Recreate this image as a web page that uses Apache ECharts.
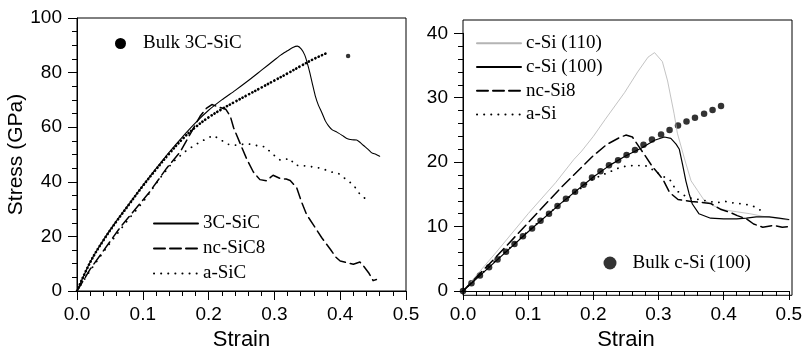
<!DOCTYPE html>
<html>
<head>
<meta charset="utf-8">
<script src="https://cdn.jsdelivr.net/npm/echarts@6/dist/echarts.min.js"></script>
<style>
html,body{margin:0;padding:0;background:#fff;}
#c{width:805px;height:356px;}
</style>
</head>
<body>
<div id="c"></div>
<script>
// ---------- Left panel (SiC) : [strain, stress GPa] ----------
const bulk3C = [[0,0],[0.02,10.5],[0.04,18.5],[0.06,25.5],[0.08,32.0],[0.10,38.5],[0.12,44.5],[0.14,50.3],[0.16,55.6],[0.18,60.0],[0.20,63.6],[0.22,66.6],[0.24,69.3],[0.26,71.9],[0.28,74.5],[0.30,77.1],[0.32,79.7],[0.34,82.4],[0.36,85.0],[0.38,87.2]];
const bulk3CTail = [[0.412,86.1]];
const sic3C = [[0,0],[0.02,10.6],[0.04,18.7],[0.06,25.7],[0.08,32.2],[0.10,38.6],[0.12,44.8],[0.14,50.8],[0.16,56.4],[0.18,61.6],[0.20,66.2],[0.22,70.0],[0.24,73.4],[0.26,77.0],[0.28,80.8],[0.30,84.6],[0.31,86.5],[0.32,88.0],[0.328,89.2],[0.335,89.7],[0.341,88.6],[0.346,86.5],[0.35,83.5],[0.354,79.8],[0.358,75.6],[0.362,71.6],[0.367,68.0],[0.372,65.4],[0.377,62.5],[0.382,60.6],[0.388,59.0],[0.395,58.2],[0.403,57.0],[0.41,55.9],[0.418,55.4],[0.425,55.3],[0.43,54.5],[0.435,53.4],[0.442,52.0],[0.448,50.6],[0.454,50.1],[0.46,49.4]];
const ncSiC8 = [[0,0],[0.02,8.0],[0.04,14.7],[0.065,23.1],[0.086,29.2],[0.111,36.5],[0.136,44.9],[0.157,51.0],[0.172,57.5],[0.187,64.0],[0.197,67.0],[0.205,68.3],[0.215,67.4],[0.226,66.6],[0.233,64.0],[0.238,59.8],[0.248,54.0],[0.258,48.3],[0.268,43.6],[0.278,40.8],[0.288,40.4],[0.298,42.4],[0.309,41.2],[0.318,41.0],[0.324,40.5],[0.334,37.7],[0.341,32.8],[0.349,28.0],[0.359,24.3],[0.372,19.5],[0.385,15.3],[0.393,12.5],[0.4,11.0],[0.41,10.4],[0.42,9.8],[0.43,10.6],[0.436,9.0],[0.444,6.4],[0.45,3.8],[0.455,4.2]];
const aSiC = [[0,0],[0.02,7.5],[0.045,15.9],[0.076,25.6],[0.101,32.8],[0.126,41.3],[0.146,47.3],[0.167,51.6],[0.187,54.6],[0.207,57.0],[0.218,55.5],[0.228,53.8],[0.243,53.4],[0.258,54.0],[0.27,53.4],[0.286,52.8],[0.296,50.4],[0.309,47.9],[0.324,48.5],[0.331,46.1],[0.344,45.9],[0.357,45.5],[0.372,44.9],[0.385,43.7],[0.397,43.1],[0.41,40.7],[0.42,38.9],[0.429,35.8],[0.44,33.4]];

// ---------- Right panel (Si) ----------
const bulkSi = [[0,0],[0.013,1.2],[0.026,2.4],[0.040,3.7],[0.053,4.9],[0.066,6.1],[0.079,7.3],[0.092,8.5],[0.106,9.7],[0.119,10.9],[0.132,12.0],[0.145,13.2],[0.158,14.3],[0.172,15.4],[0.185,16.5],[0.198,17.6],[0.211,18.6],[0.224,19.5],[0.238,20.3],[0.251,21.1],[0.264,21.9],[0.277,22.7],[0.290,23.5],[0.304,24.3],[0.317,25.0],[0.330,25.7],[0.343,26.3],[0.356,26.9],[0.370,27.5],[0.383,28.1],[0.396,28.7]];
const cSi110 = [[0,0],[0.05,5.9],[0.1,12.0],[0.142,16.8],[0.17,20.4],[0.182,21.7],[0.2,24.0],[0.218,26.6],[0.248,30.8],[0.268,34.0],[0.284,36.3],[0.294,37.0],[0.306,35.6],[0.314,32.6],[0.324,27.5],[0.329,24.5],[0.34,20.5],[0.35,17.1],[0.36,15.6],[0.37,14.1],[0.385,13.2],[0.4,12.6],[0.42,12.3],[0.44,12.0],[0.46,11.6],[0.48,11.3],[0.5,11.0]];
const cSi100 = [[0,0],[0.05,4.6],[0.1,9.2],[0.15,13.6],[0.2,17.7],[0.225,19.5],[0.25,21.0],[0.274,22.2],[0.294,23.4],[0.309,23.9],[0.319,23.7],[0.327,22.8],[0.332,22.0],[0.337,19.6],[0.342,17.1],[0.347,15.1],[0.352,13.5],[0.362,12.0],[0.38,11.3],[0.4,11.2],[0.42,11.2],[0.435,11.3],[0.45,11.5],[0.47,11.5],[0.485,11.3],[0.5,11.1]];
const ncSi8 = [[0,0],[0.05,5.2],[0.1,10.6],[0.15,16.0],[0.2,21.0],[0.22,22.7],[0.24,23.8],[0.25,24.2],[0.26,23.9],[0.27,22.4],[0.279,21.1],[0.29,19.4],[0.3,18.2],[0.307,17.3],[0.317,15.3],[0.33,14.2],[0.35,13.9],[0.37,13.7],[0.38,13.6],[0.395,12.7],[0.41,12.2],[0.421,11.7],[0.435,11.2],[0.446,10.4],[0.46,9.9],[0.477,10.2],[0.49,9.9],[0.5,10.0]];
const aSi = [[0,0],[0.05,4.7],[0.1,9.3],[0.15,13.6],[0.2,17.4],[0.223,18.4],[0.239,19.1],[0.251,19.4],[0.266,19.5],[0.281,19.4],[0.29,18.9],[0.302,18.1],[0.319,17.1],[0.327,15.6],[0.345,14.5],[0.373,14.0],[0.39,13.7],[0.403,13.9],[0.418,13.6],[0.431,13.5],[0.445,13.2],[0.459,12.4]];

// ---------- axes / labels ----------
const strainTicks = [0, 0.1, 0.2, 0.3, 0.4, 0.5];
const leftStressTicks = [0, 20, 40, 60, 80, 100];
const rightStressTicks = [0, 10, 20, 30, 40];
const xTitle = 'Strain';
const yTitle = 'Stress (GPa)';

const SANS = 'Liberation Sans';
const SERIF = 'Liberation Serif';
const BLACK = '#000';

function xAxisCfg(gi) {
  return {
    gridIndex: gi, type: 'value',
    min: strainTicks[0], max: strainTicks[strainTicks.length - 1], interval: strainTicks[1] - strainTicks[0],
    axisLine: { lineStyle: { color: BLACK, width: 1 } },
    axisTick: { length: 9, lineStyle: { color: BLACK, width: 1 } },
    minorTick: { show: true, splitNumber: 5, length: 5, lineStyle: { color: BLACK, width: 1 } },
    splitLine: { show: false },
    axisLabel: { color: BLACK, fontFamily: SANS, fontSize: 19, margin: 14, formatter: v => v.toFixed(1) },
    name: xTitle, nameLocation: 'middle', nameGap: 38,
    nameTextStyle: { color: BLACK, fontFamily: SANS, fontSize: 22 }
  };
}
function yAxisCfg(gi, ticks, minorSplit, title) {
  const c = {
    gridIndex: gi, type: 'value',
    min: ticks[0], max: ticks[ticks.length - 1], interval: ticks[1] - ticks[0],
    axisLine: { show: true, lineStyle: { color: BLACK, width: 1 } },
    axisTick: { show: true, length: 9, lineStyle: { color: BLACK, width: 1 } },
    minorTick: { show: true, splitNumber: minorSplit, length: 5, lineStyle: { color: BLACK, width: 1 } },
    splitLine: { show: false },
    axisLabel: { color: BLACK, fontFamily: SANS, fontSize: 19, margin: 15 }
  };
  if (title) {
    c.name = title; c.nameLocation = 'middle'; c.nameGap = 49;
    c.nameTextStyle = { color: BLACK, fontFamily: SANS, fontSize: 21 };
  }
  return c;
}
function lineSeries(name, data, xi, type, width, color) {
  return {
    name, type: 'line', xAxisIndex: xi, yAxisIndex: xi, data,
    symbol: 'none', smooth: false,
    itemStyle: { color: color || BLACK },
    lineStyle: { color: color || BLACK, width: width, type: type, cap: 'round', join: 'round' },
    animation: false, silent: true
  };
}
const noSymbol = { color: 'rgba(0,0,0,0)', borderColor: 'rgba(0,0,0,0)', borderWidth: 0, opacity: 0 };

const chart = echarts.init(document.getElementById('c'), null, { renderer: 'canvas' });
chart.setOption({
  backgroundColor: '#fff',
  animation: false,
  grid: [
    { left: 77, top: 18, right: 399, bottom: 62.3, show: true, borderColor: BLACK, borderWidth: 1, backgroundColor: 'transparent' },
    { left: 463, top: 33.3, right: 13, bottom: 60.7 },
    { left: 463, top: 20, right: 13, bottom: 60.7, show: true, borderColor: BLACK, borderWidth: 1, backgroundColor: 'transparent' }
  ],
  xAxis: [xAxisCfg(0), xAxisCfg(1), { gridIndex: 2, type: 'value', show: false, min: 0, max: 1 }],
  yAxis: [yAxisCfg(0, leftStressTicks, 4, yTitle), yAxisCfg(1, rightStressTicks, 5, null), { gridIndex: 2, type: 'value', show: false, min: 0, max: 1 }],
  legend: [
    { left: 153, top: 211, orient: 'vertical', padding: 0, itemGap: 0, itemWidth: 44, itemHeight: 14, selectedMode: false,
      itemStyle: noSymbol,
      data: ['3C-SiC', 'nc-SiC8', 'a-SiC'],
      textStyle: { color: BLACK, fontFamily: SERIF, fontSize: 19, lineHeight: 25 } },
    { left: 476, top: 31.5, orient: 'vertical', padding: 0, itemGap: 0, itemWidth: 44, itemHeight: 14, selectedMode: false,
      itemStyle: noSymbol,
      data: ['c-Si (110)', 'c-Si (100)', 'nc-Si8', 'a-Si'],
      textStyle: { color: BLACK, fontFamily: SERIF, fontSize: 19, lineHeight: 23.7 } },
    { left: 115, top: 34, orient: 'vertical', padding: 0, itemWidth: 11, itemHeight: 11, selectedMode: false,
      data: [{ name: 'Bulk 3C-SiC', icon: 'circle' }],
      textStyle: { color: BLACK, fontFamily: SERIF, fontSize: 19, lineHeight: 19, padding: [0, 0, 0, 12] } },
    { left: 603.5, top: 253.5, orient: 'vertical', padding: 0, itemWidth: 13, itemHeight: 13, selectedMode: false,
      data: [{ name: 'Bulk c-Si (100)', icon: 'circle' }],
      textStyle: { color: BLACK, fontFamily: SERIF, fontSize: 19, lineHeight: 19, padding: [0, 0, 0, 11] } }
  ],
  series: [
    // left
    Object.assign(lineSeries('Bulk 3C-SiC', bulk3C, 0, [0.1, 3.5], 2.7), { smooth: 0.4 }),
    { name: 'Bulk 3C-SiC', type: 'scatter', xAxisIndex: 0, yAxisIndex: 0, data: bulk3CTail, symbol: 'circle', symbolSize: 4.5, itemStyle: { color: BLACK }, silent: true },
    Object.assign(lineSeries('3C-SiC', sic3C, 0, 'solid', 1.1), { smooth: 0.2 }),
    lineSeries('nc-SiC8', ncSiC8, 0, [11, 5], 1.5),
    lineSeries('a-SiC', aSiC, 0, [0.1, 7], 1.8),
    // right
    lineSeries('c-Si (110)', cSi110, 1, 'solid', 0.8, '#b4b4b4'),
    lineSeries('c-Si (100)', cSi100, 1, 'solid', 1.2),
    lineSeries('nc-Si8', ncSi8, 1, [11, 5], 1.5),
    lineSeries('a-Si', aSi, 1, [0.1, 7], 1.8),
    { name: 'Bulk c-Si (100)', type: 'scatter', xAxisIndex: 1, yAxisIndex: 1, data: bulkSi, symbol: 'circle', symbolSize: 6.5, itemStyle: { color: BLACK }, silent: true }
  ]
});
</script>
</body>
</html>
